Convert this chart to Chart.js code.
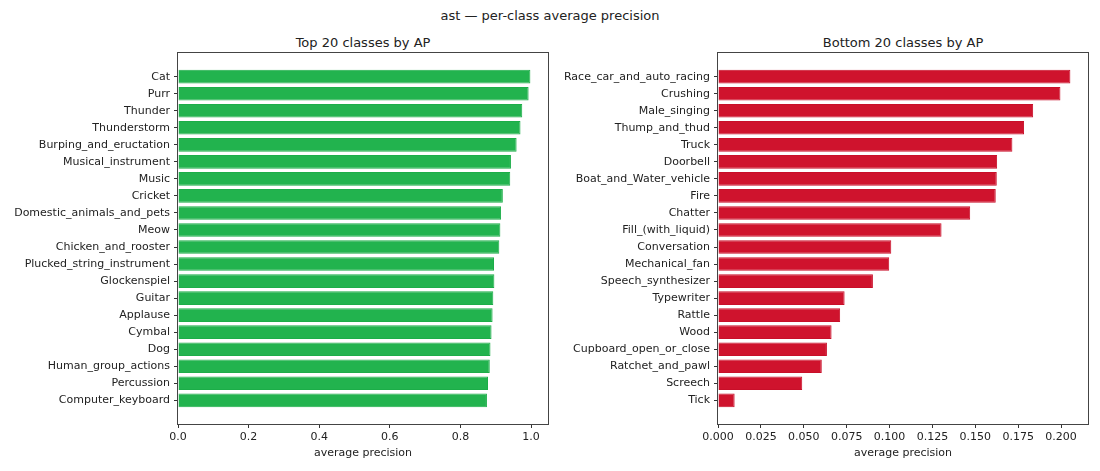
<!DOCTYPE html>
<html>
<head>
<meta charset="utf-8">
<script src="https://cdn.jsdelivr.net/npm/chart.js@4.4.1/dist/chart.umd.min.js"></script>
<style>
  body { margin: 0; background: #fff; font-family: "DejaVu Sans", sans-serif; color: #222; }
  #wrap { position: relative; width: 1100px; height: 471px; overflow: hidden; }
  .t { position: absolute; font-size: 13px; line-height: 15px; white-space: nowrap; transform: translateX(-50%); }
  canvas { position: absolute; top: 0; }
</style>
</head>
<body>
<div id="wrap">
  <div class="t" style="left:550px; top:8px">ast — per-class average precision</div>
  <div class="t" style="left:363px; top:35px">Top 20 classes by AP</div>
  <div class="t" style="left:903px; top:35px">Bottom 20 classes by AP</div>
  <canvas id="topChart" width="560" height="471" style="left:0"></canvas>
  <canvas id="bottomChart" width="540" height="471" style="left:560px"></canvas>
</div>
<script>
// Top 20 classes, listed top to bottom
const topClasses = [
  "Cat", "Purr", "Thunder", "Thunderstorm", "Burping_and_eructation",
  "Musical_instrument", "Music", "Cricket", "Domestic_animals_and_pets", "Meow",
  "Chicken_and_rooster", "Plucked_string_instrument", "Glockenspiel", "Guitar", "Applause",
  "Cymbal", "Dog", "Human_group_actions", "Percussion", "Computer_keyboard"
]
const topAP = [
  0.998, 0.993, 0.975, 0.970, 0.959,
  0.943, 0.941, 0.920, 0.915, 0.913,
  0.910, 0.895, 0.896, 0.893, 0.891,
  0.888, 0.885, 0.883, 0.878, 0.875
]

// Bottom 20 classes, listed top to bottom
const bottomClasses = [
  "Race_car_and_auto_racing", "Crushing", "Male_singing", "Thump_and_thud", "Truck",
  "Doorbell", "Boat_and_Water_vehicle", "Fire", "Chatter", "Fill_(with_liquid)",
  "Conversation", "Mechanical_fan", "Speech_synthesizer", "Typewriter", "Rattle",
  "Wood", "Cupboard_open_or_close", "Ratchet_and_pawl", "Screech", "Tick"
]
const bottomAP = [
  0.2054, 0.1996, 0.1837, 0.1784, 0.1716,
  0.1627, 0.1625, 0.1619, 0.1470, 0.1303,
  0.1010, 0.0998, 0.0903, 0.0738, 0.0712,
  0.0662, 0.0635, 0.0605, 0.0491, 0.0097
]

const topTicks = [0, 0.2, 0.4, 0.6, 0.8, 1.0]
const bottomTicks = [0, 0.025, 0.05, 0.075, 0.1, 0.125, 0.15, 0.175, 0.2]

const font = { family: "DejaVu Sans", size: 11 }

// Full box around the plot area, like matplotlib spines
const frame = {
  id: "frame",
  afterDatasetsDraw(chart) {
    const a = chart.chartArea
    const ctx = chart.ctx
    ctx.save()
    ctx.strokeStyle = "#444"
    ctx.lineWidth = 1
    ctx.strokeRect(Math.round(a.left) - 0.5, Math.round(a.top) - 0.5,
      Math.round(a.right - a.left) + 1, Math.round(a.bottom - a.top) + 1)
    ctx.restore()
  }
}

function makeChart(id, classes, values, ticks, decimals, fill, edge, axisWidth) {
  const n = classes.length
  const margin = 0.05 * (n - 1 + 0.8)
  const xMax = Math.max(...values) * 1.05

  return new Chart(document.getElementById(id), {
    type: "bar",
    data: {
      datasets: [{
        data: values.map((v, i) => ({ x: v, y: i })),
        backgroundColor: fill,
        borderColor: edge,
        borderWidth: 1,
        barPercentage: 0.8,
        categoryPercentage: 1.0
      }]
    },
    options: {
      indexAxis: "y",
      responsive: false,
      animation: false,
      layout: { padding: { top: 53, right: 12, bottom: 0, left: 0 } },
      plugins: { legend: { display: false }, tooltip: { enabled: false } },
      scales: {
        x: {
          type: "linear",
          min: 0,
          max: xMax,
          offset: false,
          afterFit: s => { s.height = 47 },
          afterBuildTicks: s => { s.ticks = ticks.map(v => ({ value: v })) },
          border: { display: false },
          grid: { drawOnChartArea: false, drawTicks: true, tickLength: 4, color: "#333", offset: false },
          ticks: {
            color: "#222", font, padding: 3, maxRotation: 0, autoSkip: false,
            callback: v => v.toFixed(decimals)
          },
          title: {
            display: true, text: "average precision", color: "#222", font,
            padding: { top: 4, bottom: 11 }
          }
        },
        y: {
          type: "linear",
          reverse: true,
          offset: false,
          min: -0.4 - margin,
          max: n - 1 + 0.4 + margin,
          afterFit: s => { s.width = axisWidth },
          afterBuildTicks: s => { s.ticks = classes.map((c, i) => ({ value: i })) },
          border: { display: false },
          grid: { drawOnChartArea: false, drawTicks: true, tickLength: 4, color: "#333", offset: false },
          ticks: {
            color: "#222", font, padding: 4, autoSkip: false,
            callback: v => classes[v]
          }
        }
      }
    },
    plugins: [frame]
  })
}

makeChart("topChart", topClasses, topAP, topTicks, 1, "#22b34e", "#1cad48", 178)
makeChart("bottomChart", bottomClasses, bottomAP, bottomTicks, 3, "#cf132d", "#c80f29", 158)
</script>
</body>
</html>
